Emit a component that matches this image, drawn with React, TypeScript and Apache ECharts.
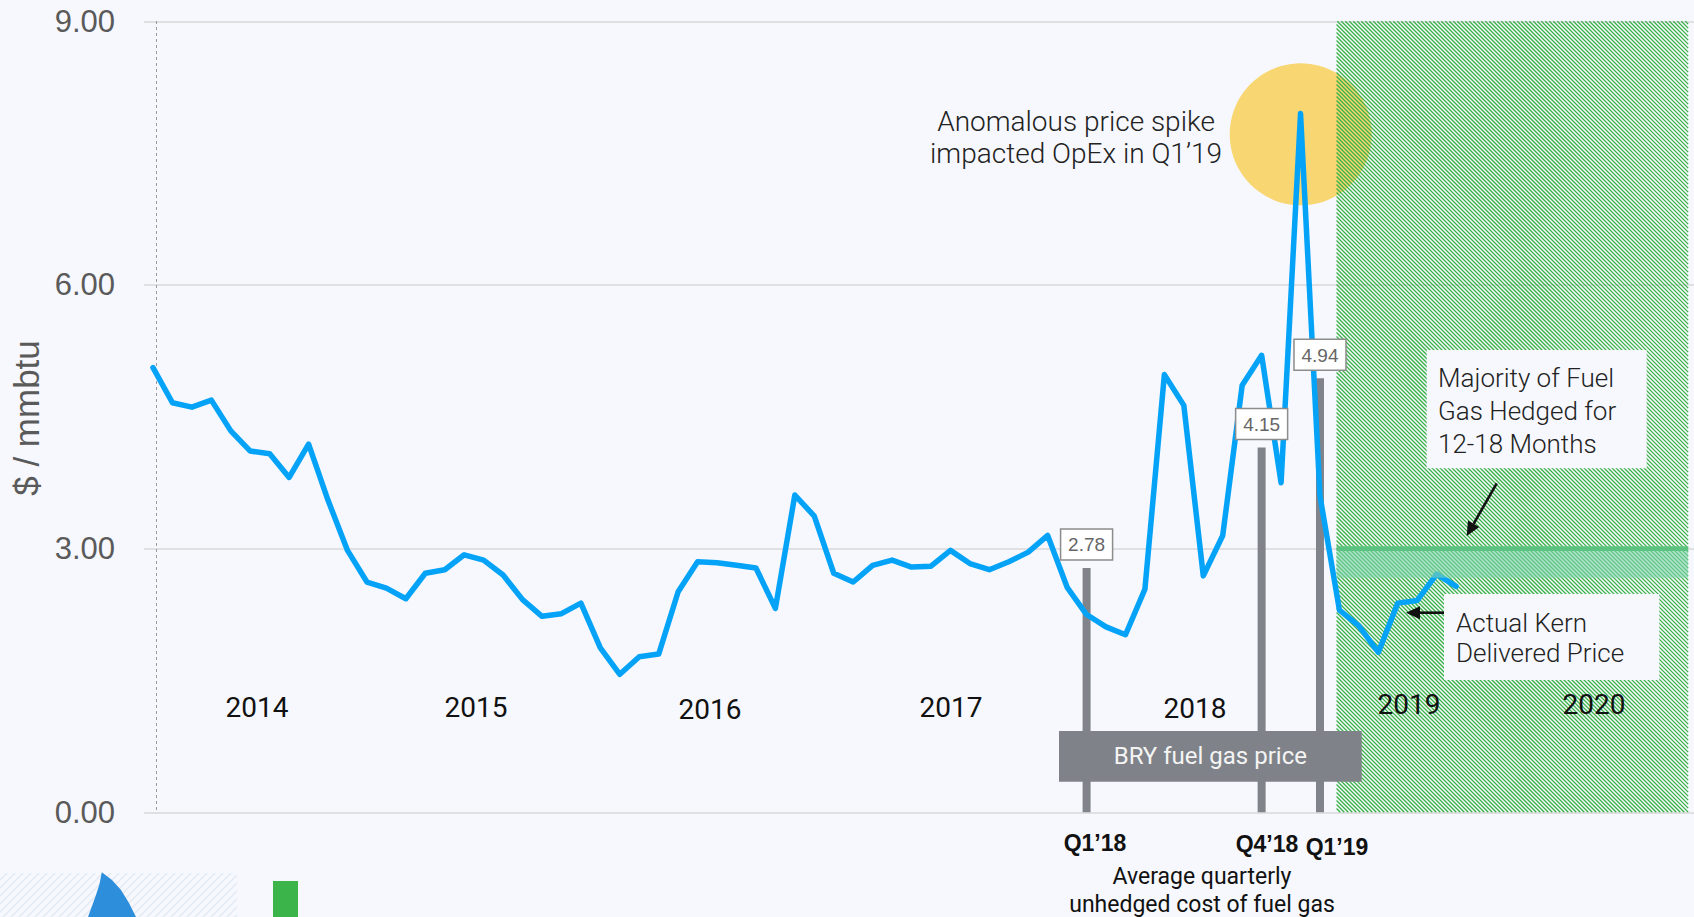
import React, { useEffect, useRef } from "react";
import * as echarts from "echarts";

// ---------- data ----------
// monthly Kern delivered gas price, $/mmbtu, index 0 = Jan 2014
const kernPrice = [
  5.06, 4.66, 4.61, 4.69, 4.34, 4.11, 4.08, 3.81, 4.19, 3.55, 2.98, 2.62,
  2.55, 2.43, 2.72, 2.76, 2.93, 2.87, 2.70, 2.42, 2.23, 2.26, 2.38, 1.87,
  1.57, 1.77, 1.80, 2.51, 2.85, 2.84, 2.81, 2.78, 2.32, 3.61, 3.37, 2.72,
  2.62, 2.81, 2.87, 2.79, 2.80, 2.98, 2.83, 2.76, 2.85, 2.96, 3.15, 2.56,
  2.25, 2.11, 2.02, 2.54, 4.98, 4.63, 2.69, 3.15, 4.86, 5.20, 3.75, 7.95,
  3.60, 2.30, 2.12, 1.82, 2.38, 2.41, 2.71, 2.57,
];
const yTickLabels = ["0.00", "3.00", "6.00", "9.00"];
const yearLabels = ["2014", "2015", "2016", "2017", "2018", "2019", "2020"];
// BRY average quarterly unhedged cost of fuel gas
const quarterLabels = ["Q1\u201918", "Q4\u201918", "Q1\u201919"];
const quarterMonthIdx = [48, 57, 60];
const quarterCost = [2.78, 4.15, 4.94];
// hedged period (month index) and hedge price band
const hedgeStartIdx = 60.85;
const hedgeEndIdx = 78.93;
const hedgePrice = 3.0;
const hedgeBandLow = 2.67;

// ---------- layout / style ----------
const W = 1694;
const H = 917;
const BG = "#f6f8fd";
const yearPos = [
  [257, 707], [476, 707], [710, 709], [951, 707], [1195, 708], [1409, 704], [1594, 704],
];
const quarterPos = [
  [1095, 843], [1267, 844], [1337, 847],
];

const faintSvg =
  '<svg xmlns="http://www.w3.org/2000/svg" width="8" height="8"><path d="M-1 9L9 -1M-1 1L1 -1M7 9L9 7" stroke="#e1e9f4" stroke-width="1.3"/></svg>';
const faintFill: any = {
  image: "data:image/svg+xml;charset=utf-8," + encodeURIComponent(faintSvg),
  repeat: "repeat",
  imageWidth: 8,
  imageHeight: 8,
};

function hatchLines(x0: number, y0: number, x1: number, y1: number, step: number) {
  const out: any[] = [];
  const kStart = Math.floor((y0 - x1) / step) * step;
  const kEnd = y1 - x0;
  for (let k = kStart; k <= kEnd; k += step) {
    const lo = Math.max(x0, y0 - k);
    const hi = Math.min(x1, y1 - k);
    if (hi - lo > 0.3) {
      out.push({
        type: "line",
        shape: { x1: lo, y1: lo + k, x2: hi, y2: hi + k },
        style: { stroke: "#3ab248", lineWidth: 1.3 },
      });
    }
  }
  return out;
}

function arrow(x1: number, y1: number, x2: number, y2: number, z: number) {
  const dx = x2 - x1;
  const dy = y2 - y1;
  const len = Math.sqrt(dx * dx + dy * dy);
  const ux = dx / len;
  const uy = dy / len;
  const hl = 14;
  const hw = 6.5;
  const bx = x2 - ux * hl;
  const by = y2 - uy * hl;
  const px = -uy;
  const py = ux;
  return [
    {
      type: "line",
      z,
      shape: { x1, y1, x2: bx, y2: by },
      style: { stroke: "#111", lineWidth: 2.6 },
    },
    {
      type: "polygon",
      z,
      shape: {
        points: [
          [x2, y2],
          [bx + px * hw, by + py * hw],
          [bx - px * hw, by - py * hw],
        ],
      },
      style: { fill: "#111" },
    },
  ];
}

const ROBOTO = "Roboto, 'Noto Sans', sans-serif";
const ARIAL = "'Liberation Sans', Arial, sans-serif";

export default function App() {
  const ref = useRef<HTMLDivElement>(null);
  useEffect(() => {
    const chart = echarts.init(ref.current as HTMLDivElement, null, { renderer: "svg" });
    const option: any = {
      animation: false,
      backgroundColor: BG,
      grid: { left: 144, right: 0, top: 21.3, bottom: 104.7 },
      xAxis: {
        type: "value",
        min: -0.463,
        max: 79.23,
        show: false,
        splitLine: { show: false },
      },
      yAxis: {
        type: "value",
        min: 0,
        max: 9,
        interval: 3,
        axisLine: { show: false },
        axisTick: { show: false },
        axisLabel: {
          formatter: (v: number) => yTickLabels[Math.round(v / 3)],
          fontSize: 31,
          color: "#5a5a5a",
          fontFamily: ARIAL,
          margin: 29,
        },
        splitLine: { lineStyle: { color: "#d9d9d9", width: 1.5 } },
      },
      series: [
        {
          type: "custom",
          name: "hedged period",
          z: 1,
          silent: true,
          encode: { x: [0, 2], y: [1, 3] },
          data: [[hedgeStartIdx, 9, hedgeEndIdx, 0]],
          renderItem: (params: any, api: any) => {
            const p1 = api.coord([api.value(0), api.value(1)]);
            const p2 = api.coord([api.value(2), api.value(3)]);
            return {
              type: "group",
              children: hatchLines(p1[0], p1[1], p2[0], p2[1], 4),
            };
          },
        },
        {
          type: "bar",
          name: "BRY fuel gas price",
          z: 2,
          silent: true,
          barWidth: 8,
          itemStyle: { color: "#80848a" },
          data: quarterMonthIdx.map((m, i) => [m, quarterCost[i]]),
        },
        {
          type: "line",
          name: "Actual Kern Delivered Price",
          z: 3,
          silent: true,
          showSymbol: false,
          symbol: "none",
          lineStyle: { color: "#05a3f8", width: 5.5, cap: "round", join: "round" },
          data: kernPrice.map((v, i) => [i, v]),
        },
        {
          type: "custom",
          name: "hedge band",
          z: 4,
          silent: true,
          encode: { x: [0, 2], y: [1, 3] },
          data: [[hedgeStartIdx, hedgePrice, hedgeEndIdx, hedgeBandLow]],
          renderItem: (params: any, api: any) => {
            const p1 = api.coord([api.value(0), api.value(1)]);
            const p2 = api.coord([api.value(2), api.value(3)]);
            return {
              type: "group",
              children: [
                {
                  type: "rect",
                  shape: { x: p1[0], y: p1[1], width: p2[0] - p1[0], height: p2[1] - p1[1] },
                  style: { fill: "rgba(125, 212, 172, 0.6)" },
                },
                {
                  type: "line",
                  shape: { x1: p1[0], y1: p1[1], x2: p2[0], y2: p1[1] },
                  style: { stroke: "#5cc27f", lineWidth: 4.7 },
                },
              ],
            };
          },
        },
        {
          type: "custom",
          name: "cost labels",
          z: 6,
          silent: true,
          encode: { x: 0, y: 1 },
          data: quarterMonthIdx.map((m, i) => [m, quarterCost[i]]),
          renderItem: (params: any, api: any) => {
            const p = api.coord([api.value(0), api.value(1)]);
            const bw = 52;
            const bh = 31;
            const bottom = p[1] - 8;
            return {
              type: "group",
              children: [
                {
                  type: "rect",
                  shape: { x: p[0] - bw / 2, y: bottom - bh, width: bw, height: bh },
                  style: { fill: "#ffffff", stroke: "#8c8c8c", lineWidth: 1.5 },
                },
                {
                  type: "text",
                  style: {
                    text: Number(api.value(1)).toFixed(2),
                    x: p[0],
                    y: bottom - bh / 2 + 0.5,
                    align: "center",
                    verticalAlign: "middle",
                    textAlign: "center",
                    textVerticalAlign: "middle",
                    fontSize: 19,
                    fontFamily: ARIAL,
                    fill: "#666",
                  },
                },
              ],
            };
          },
        },
      ],
      graphic: {
        elements: [
          {
            type: "rect",
            z: 0,
            silent: true,
            shape: { x: 0, y: 873, width: 237, height: 44 },
            style: { fill: faintFill },
          },
          {
            type: "polygon",
            z: 0,
            silent: true,
            shape: {
              points: [
                [101.8, 872.3], [99.5, 884], [96, 895], [92, 906], [88, 917],
                [136, 917], [129, 903], [121, 890], [112, 880],
              ],
            },
            style: { fill: "#2d8fdc" },
          },
          {
            type: "rect",
            z: 0,
            silent: true,
            shape: { x: 273, y: 881, width: 25, height: 36 },
            style: { fill: "#3bb54a" },
          },
          {
            type: "line",
            z: 1,
            silent: true,
            shape: { x1: 156.5, y1: 21, x2: 156.5, y2: 812 },
            style: { stroke: "#9a9a9a", lineWidth: 1, lineDash: [3, 3] },
          },
          {
            type: "circle",
            z: 0,
            silent: true,
            shape: { cx: 1300.7, cy: 134.3, r: 71 },
            style: { fill: "#f8d671" },
          },
          {
            type: "text",
            z: 5,
            silent: true,
            x: 26,
            y: 418,
            rotation: Math.PI / 2,
            style: {
              text: "$ / mmbtu",
              fill: "#5a5a5a",
              fontSize: 35,
              fontFamily: ARIAL,
              align: "center",
              verticalAlign: "middle",
            },
          },
          ...yearLabels.map((t, i) => ({
            type: "text",
            z: 5,
            silent: true,
            x: yearPos[i][0],
            y: yearPos[i][1],
            style: {
              text: t,
              fill: "#111",
              fontSize: 28,
              fontFamily: ROBOTO,
              align: "center",
              verticalAlign: "middle",
            },
          })),
          {
            type: "text",
            z: 5,
            silent: true,
            x: 1076,
            y: 137.5,
            style: {
              text: "Anomalous price spike\nimpacted OpEx in Q1\u201919",
              fill: "#222",
              fontSize: 28,
              fontWeight: 300,
              lineHeight: 31.6,
              fontFamily: ROBOTO,
              align: "center",
              verticalAlign: "middle",
            },
          },
          {
            type: "rect",
            z: 10,
            silent: true,
            shape: { x: 1059, y: 731, width: 302.7, height: 50.7 },
            style: { fill: "#7f8389" },
          },
          {
            type: "text",
            z: 11,
            silent: true,
            x: 1210.3,
            y: 756.3,
            style: {
              text: "BRY fuel gas price",
              fill: "#f4f4f4",
              fontSize: 24,
              fontFamily: ROBOTO,
              align: "center",
              verticalAlign: "middle",
            },
          },
          ...quarterLabels.map((t, i) => ({
            type: "text",
            z: 5,
            silent: true,
            x: quarterPos[i][0],
            y: quarterPos[i][1],
            style: {
              text: t,
              fill: "#111",
              fontSize: 23,
              fontWeight: "bold",
              fontFamily: ARIAL,
              align: "center",
              verticalAlign: "middle",
            },
          })),
          {
            type: "text",
            z: 5,
            silent: true,
            x: 1202,
            y: 890,
            style: {
              text: "Average quarterly\nunhedged cost of fuel gas",
              fill: "#111",
              fontSize: 23,
              lineHeight: 28,
              fontFamily: ROBOTO,
              align: "center",
              verticalAlign: "middle",
            },
          },
          {
            type: "rect",
            z: 10,
            silent: true,
            shape: { x: 1426.7, y: 350, width: 220, height: 118.3 },
            style: { fill: BG },
          },
          {
            type: "text",
            z: 11,
            silent: true,
            x: 1438,
            y: 411,
            style: {
              text: "Majority of Fuel\nGas Hedged for\n12-18 Months",
              fill: "#222",
              fontSize: 26,
              fontWeight: 300,
              lineHeight: 33,
              fontFamily: ROBOTO,
              align: "left",
              verticalAlign: "middle",
            },
          },
          {
            type: "rect",
            z: 10,
            silent: true,
            shape: { x: 1444, y: 594, width: 215.3, height: 86 },
            style: { fill: BG },
          },
          {
            type: "text",
            z: 11,
            silent: true,
            x: 1456,
            y: 638,
            style: {
              text: "Actual Kern\nDelivered Price",
              fill: "#222",
              fontSize: 26,
              fontWeight: 300,
              lineHeight: 30.6,
              fontFamily: ROBOTO,
              align: "left",
              verticalAlign: "middle",
            },
          },
          ...arrow(1496.7, 483.3, 1466.7, 536, 12),
          ...arrow(1444, 612.7, 1406, 612.7, 12),
        ],
      },
    };
    chart.setOption(option);
    return () => {
      chart.dispose();
    };
  }, []);
  return (
    <div
      ref={ref}
      style={{ position: "fixed", left: 0, top: 0, width: W, height: H, background: BG }}
    />
  );
}
